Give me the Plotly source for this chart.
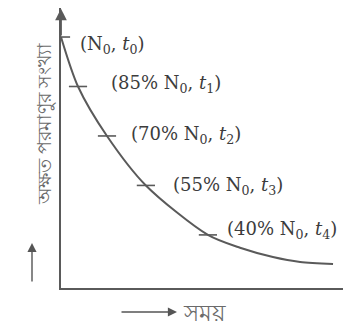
import plotly.graph_objects as go

# Marked points on the decay curve
point_labels = ["(N<sub>0</sub>, <i>t</i><sub>0</sub>)",
                "(85% N<sub>0</sub>, <i>t</i><sub>1</sub>)",
                "(70% N<sub>0</sub>, <i>t</i><sub>2</sub>)",
                "(55% N<sub>0</sub>, <i>t</i><sub>3</sub>)",
                "(40% N<sub>0</sub>, <i>t</i><sub>4</sub>)"]
point_t = [0, 0.625, 1.69, 3.12, 5.40]
point_pct = [100, 85, 70, 55, 40]

# Curve trace
curve_t = [0, 0.625, 1.69, 3.12, 5.40, 6.58, 7.79, 8.79, 10.0]
curve_pct = [100, 85, 70, 55, 40, 36.1, 33.3, 31.8, 31.2]

y_title = "অক্ষত পরমাণুর সংখ্যা"
x_title = "সময়"

INK = "#5a5a5a"
TXT = "#3c3c3c"

fig = go.Figure()
fig.add_trace(go.Scatter(x=curve_t, y=curve_pct, mode="lines",
                         line=dict(color=INK, width=2, shape="spline", smoothing=0.8),
                         hoverinfo="skip"))
fig.add_trace(go.Scatter(x=point_t, y=point_pct, mode="markers",
                         marker=dict(symbol="line-ew", size=13,
                                     line=dict(color=INK, width=1.6)),
                         hoverinfo="skip"))

offsets = [(17, -8), (31, 2), (22, 1), (25, -1), (17, 5)]
for lab, t, p, (dx, dy) in zip(point_labels, point_t, point_pct, offsets):
    fig.add_annotation(x=t, y=p, text=lab, showarrow=False, xanchor="left",
                       yanchor="middle", xshift=dx, yshift=dy,
                       font=dict(family="DejaVu Serif", size=18, color=TXT))

# y-axis arrowhead
fig.add_annotation(x=0, y=108.6, ax=0, ay=100, axref="x", ayref="y", xref="x", yref="y",
                   text="", showarrow=True, arrowhead=2, arrowsize=1.3,
                   arrowwidth=1.8, arrowcolor=INK)

# y title with arrow
fig.add_annotation(xref="paper", yref="paper", x=-0.110, y=0.585, text=y_title,
                   textangle=-90, showarrow=False,
                   font=dict(family="Noto Sans", size=19, color="#6a6a6a"))
fig.add_annotation(xref="paper", yref="paper", x=(32 - 61) / 290, y=(288 - 243) / 280,
                   ax=0, ay=40, text="", showarrow=True, arrowhead=2,
                   arrowsize=1.3, arrowwidth=1.4, arrowcolor="#555")

# x title with arrow
fig.add_annotation(xref="paper", yref="paper", x=(177 - 61) / 290, y=(288 - 312) / 280,
                   ax=-57, ay=0, text="", showarrow=True, arrowhead=2,
                   arrowsize=1.3, arrowwidth=1.4, arrowcolor="#555")
fig.add_annotation(xref="paper", yref="paper", x=(181 - 61) / 290, y=(288 - 312) / 280,
                   text=x_title, showarrow=False, xanchor="left", yanchor="middle",
                   font=dict(family="Noto Sans", size=23, color="#6a6a6a"))

# The page places the figure 8px in from the top-left corner
fig.update_layout(
    width=343, height=323,
    margin=dict(l=53, r=0, t=0, b=43),
    paper_bgcolor="white", plot_bgcolor="white",
    showlegend=False,
    xaxis=dict(range=[0, 10.66], showgrid=False, zeroline=False, showticklabels=False,
               ticks="", showline=True, linecolor=INK, linewidth=2),
    yaxis=dict(range=[23.9, 108.8], showgrid=False, zeroline=False, showticklabels=False,
               ticks="", showline=True, linecolor=INK, linewidth=2),
)

fig.write_html("out.html")
